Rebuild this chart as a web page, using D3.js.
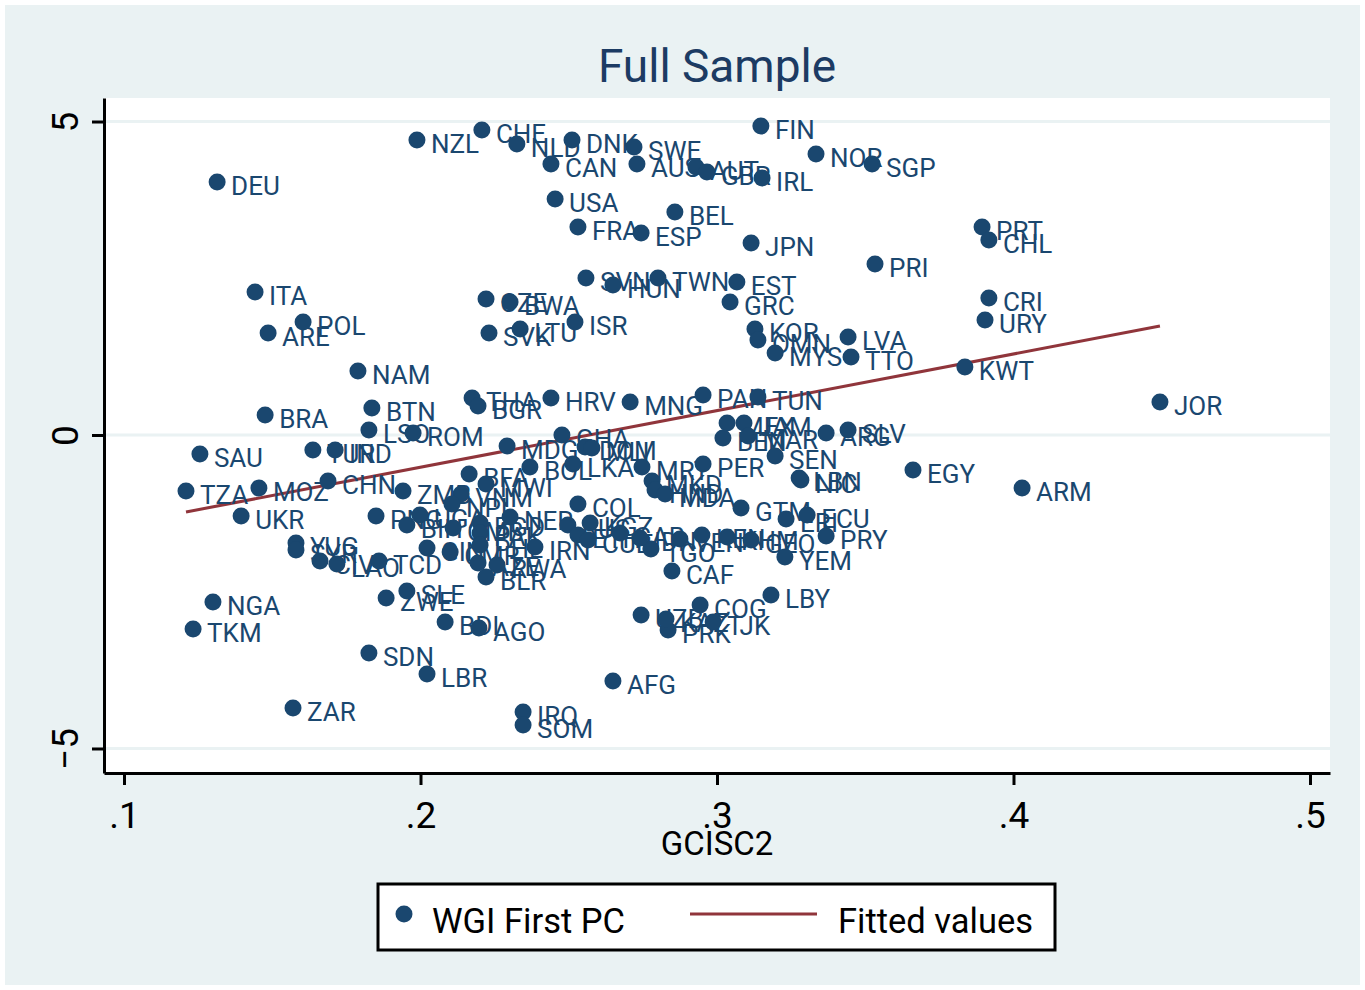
<!DOCTYPE html>
<html>
<head>
<meta charset="utf-8">
<script src="https://cdn.jsdelivr.net/npm/d3@7"></script>
<style>
  body { margin: 0; background: #fff; }
  text { font-family: Roboto, "Liberation Sans", sans-serif; }
</style>
</head>
<body>
<svg id="chart" width="1365" height="990"></svg>
<script>
// country codes, GCISC2 (x) and WGI first principal component (y)
var countries = ["DEU","NZL","CHE","NLD","DNK","SWE","CAN","AUS","AUT","GBR","IRL","FIN","NOR","SGP","USA","BEL","FRA","ESP","JPN","PRT",
  "CHL","PRI","SVN","TWN","HUN","EST","GRC","ITA","CZE","BWA","ISR","SVK","LTU","POL","ARE","KOR","OMN","LVA","MYS","TTO",
  "CRI","URY","KWT","NAM","JOR","THA","BGR","HRV","MNG","PAN","TUN","BTN","BRA","LSO","ROM","SAU","TUR","IND","MDG","GHA",
  "DOM","MLI","TZA","MOZ","CHN","UKR","BFA","BOL","LKA","MRT","PER","MKD","HND","MDA","ZMB","MWI","VNM","NPL","COL","GTM",
  "ERI","ECU","PRY","GEO","KHM","KEN","YEM","LBY","COG","TJK","PRK","UZB","KAZ","CAF","TGO","ARM","EGY","SEN","LBN","NIC",
  "ARG","SLV","MEX","JAM","BEN","MAR","PNG","YUG","SYR","CIV","LAO","TCD","SLE","ZWE","NGA","TKM","BDI","AGO","SDN","LBR",
  "ZAR","AFG","IRQ","SOM","BLR","RWA","AZE","BIH","UGA","NER","IRN","BGD","PAK","PHL","GIN","CMR","RUS","KGZ","ETH","CUB",
  "IDN","GAB","VEN","GMB"];

var gcisc2 = [.1314,.1988,.2207,.2325,.2511,.2720,.2440,.2730,.2929,.2966,.3152,.3148,.3334,.3523,.2454,.2858,.2531,.2744,.3115,.3894,
  .3917,.3533,.2558,.2801,.2649,.3067,.3044,.1442,.2221,.2302,.2521,.2231,.2336,.1604,.1486,.3128,.3138,.3442,.3196,.3452,
  .3917,.3904,.3836,.1789,.4494,.2174,.2194,.2440,.2707,.2953,.3138,.1836,.1476,.1826,.1975,.1256,.1637,.1712,.2292,.2477,
  .2555,.2578,.1209,.1455,.1688,.1395,.2164,.2369,.2514,.2747,.2953,.2781,.2791,.2825,.1941,.2221,.2137,.2106,.2531,.3081,
  .3233,.3304,.3368,.3115,.3034,.2949,.3229,.3182,.2943,.2987,.2835,.2744,.2828,.2848,.2777,.4029,.3661,.3196,.3277,.3283,
  .3368,.3442,.3034,.3091,.3020,.3105,.1850,.1580,.1580,.1661,.1718,.1860,.1954,.1884,.1300,.1233,.2083,.2197,.1826,.2022,
  .1570,.2649,.2346,.2346,.2221,.2258,.2194,.1954,.1998,.2302,.2386,.2201,.2201,.2201,.2022,.2100,.2497,.2572,.2531,.2565,
  .2740,.2673,.2875,.2110];

var wgiPC = [4.035,4.705,4.864,4.641,4.705,4.593,4.322,4.322,4.274,4.195,4.099,4.928,4.482,4.322,3.764,3.557,3.317,3.222,3.062,3.317,
  3.110,2.727,2.504,2.504,2.392,2.440,2.121,2.281,2.169,2.121,1.802,1.627,1.691,1.802,1.627,1.691,1.515,1.563,1.308,1.244,
  2.185,1.834,1.085,1.021,0.526,0.590,0.463,0.590,0.526,0.638,0.606,0.431,0.319,0.080,0.032,-0.303,-0.239,-0.239,-0.175,0.000,
  -0.191,-0.207,-0.893,-0.845,-0.734,-1.292,-0.622,-0.510,-0.463,-0.510,-0.463,-0.734,-0.877,-0.941,-0.893,-0.782,-0.941,-1.100,-1.100,-1.164,
  -1.340,-1.276,-1.611,-1.675,-1.627,-1.595,-1.946,-2.552,-2.711,-2.982,-3.110,-2.871,-2.935,-2.169,-1.818,-0.845,-0.558,-0.335,-0.686,-0.718,
  0.032,0.080,0.191,0.191,-0.048,-0.016,-1.292,-1.722,-1.834,-2.010,-2.057,-2.010,-2.488,-2.600,-2.663,-3.094,-2.982,-3.078,-3.477,-3.812,
  -4.354,-3.923,-4.418,-4.625,-2.265,-2.073,-2.041,-1.435,-1.276,-1.308,-1.786,-1.404,-1.563,-1.754,-1.802,-1.866,-1.435,-1.404,-1.595,-1.675,
  -1.643,-1.563,-1.659,-1.483];

// fitted values line (end points)
var fitX = [0.1209, 0.4494];
var fitY = [-1.228, 1.738];

var xTicks = [0.1, 0.2, 0.3, 0.4, 0.5];
var yTicks = [-5, 0, 5];

var navy = "#1a476f",
    maroon = "#90353b",
    bg = "#eaf2f3";

var svg = d3.select("#chart");

svg.append("rect")
    .attr("x", 5).attr("y", 5)
    .attr("width", 1355).attr("height", 980)
    .attr("fill", bg);

var plotL = 104, plotR = 1330, plotT = 98, plotB = 773;

var x = d3.scaleLinear().domain([0.09325, 0.50675]).range([plotL, plotR]);
var y = d3.scaleLinear().domain([-5.391, 5.375]).range([plotB, plotT]);

svg.append("rect")
    .attr("x", plotL).attr("y", plotT)
    .attr("width", plotR - plotL).attr("height", plotB - plotT)
    .attr("fill", "#fff");

// grid lines
svg.append("g")
  .selectAll("line")
  .data(yTicks)
  .enter().append("line")
    .attr("x1", plotL).attr("x2", plotR)
    .attr("y1", function(d) { return y(d); })
    .attr("y2", function(d) { return y(d); })
    .attr("stroke", bg)
    .attr("stroke-width", 3);

// fitted line
svg.append("line")
    .attr("x1", x(fitX[0])).attr("y1", y(fitY[0]))
    .attr("x2", x(fitX[1])).attr("y2", y(fitY[1]))
    .attr("stroke", maroon)
    .attr("stroke-width", 3);

var pts = countries.map(function(c, i) { return {code: c, gx: gcisc2[i], wy: wgiPC[i]}; });

svg.append("g")
  .selectAll("text")
  .data(pts)
  .enter().append("text")
    .attr("x", function(d) { return x(d.gx) + 14; })
    .attr("y", function(d) { return y(d.wy) + 13; })
    .attr("fill", navy)
    .attr("font-size", 26)
    .text(function(d) { return d.code; });

svg.append("g")
  .selectAll("circle")
  .data(pts)
  .enter().append("circle")
    .attr("cx", function(d) { return x(d.gx); })
    .attr("cy", function(d) { return y(d.wy); })
    .attr("r", 8.5)
    .attr("fill", navy);

// axes
var gx = svg.append("g")
    .attr("transform", "translate(0," + plotB + ")")
    .call(d3.axisBottom(x).tickValues(xTicks).tickSize(12).tickSizeOuter(0)
      .tickFormat(function(d) { return "." + Math.round(d * 10); }));
gx.select(".domain").attr("stroke", "#000").attr("stroke-width", 3);
gx.selectAll(".tick line").attr("stroke", "#000").attr("stroke-width", 3);
gx.selectAll(".tick text")
    .attr("y", 55).attr("dy", 0)
    .attr("fill", "#000")
    .attr("font-size", 37)
    .attr("font-family", "Roboto");

var gy = svg.append("g")
    .attr("transform", "translate(" + plotL + ",0)")
    .call(d3.axisLeft(y).tickValues(yTicks).tickSize(12).tickSizeOuter(0));
gy.select(".domain").attr("stroke", "#000").attr("stroke-width", 3);
gy.selectAll(".tick line").attr("stroke", "#000").attr("stroke-width", 3);
gy.selectAll(".tick text")
    .attr("x", 0).attr("y", 0).attr("dy", 0)
    .attr("transform", "translate(-26,0) rotate(-90)")
    .attr("text-anchor", "middle")
    .attr("fill", "#000")
    .attr("font-size", 37)
    .attr("font-family", "Roboto");

// titles
svg.append("text")
    .attr("x", (plotL + plotR) / 2).attr("y", 82)
    .attr("text-anchor", "middle")
    .attr("font-size", 46)
    .attr("fill", "#1c3b63")
    .text("Full Sample");

svg.append("text")
    .attr("x", (plotL + plotR) / 2).attr("y", 855)
    .attr("text-anchor", "middle")
    .attr("font-size", 33)
    .attr("fill", "#000")
    .text("GCISC2");

// legend
var lg = svg.append("g");
lg.append("rect")
    .attr("x", 378).attr("y", 884)
    .attr("width", 677).attr("height", 66)
    .attr("fill", "#fff")
    .attr("stroke", "#000")
    .attr("stroke-width", 3);
lg.append("circle").attr("cx", 404).attr("cy", 914).attr("r", 8.5).attr("fill", navy);
lg.append("text").attr("x", 432).attr("y", 933).attr("font-size", 34.5).attr("fill", "#000").text("WGI First PC");
lg.append("line")
    .attr("x1", 690).attr("x2", 817).attr("y1", 914).attr("y2", 914)
    .attr("stroke", maroon).attr("stroke-width", 3);
lg.append("text").attr("x", 838).attr("y", 933).attr("font-size", 34.5).attr("fill", "#000").text("Fitted values");
</script>
</body>
</html>
